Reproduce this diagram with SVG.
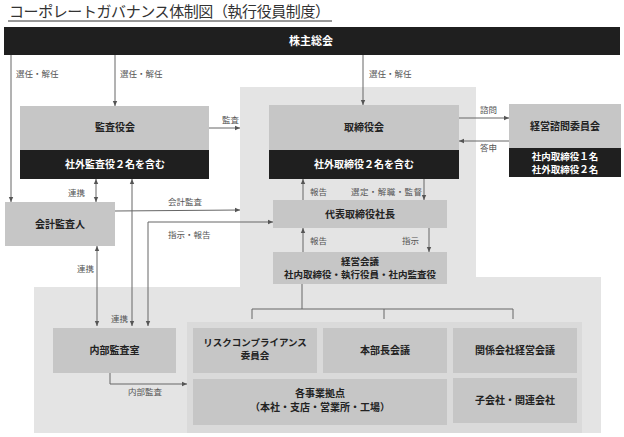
<svg xmlns="http://www.w3.org/2000/svg" width="624" height="437" viewBox="0 0 624 437">
<defs>
<marker id="ah" markerWidth="6" markerHeight="6" refX="5" refY="3" orient="auto" markerUnits="userSpaceOnUse">
<path d="M0,0.8 L5,3 L0,5.2 Z" fill="#555"/>
</marker>
<marker id="ahs" markerWidth="6" markerHeight="6" refX="0" refY="3" orient="auto" markerUnits="userSpaceOnUse">
<path d="M5,0.8 L0,3 L5,5.2 Z" fill="#555"/>
</marker>
<style>
text{font-family:"Noto Sans CJK JP","Noto Sans",sans-serif}
.title{font-size:15px;fill:#333}
.nt{font-size:10px;font-weight:700;fill:#222;text-anchor:middle}
.wt{font-size:10px;font-weight:700;fill:#fff;text-anchor:middle}
.sm{font-size:9.5px}
.lb{font-size:8.5px;fill:#555}
.light{fill:#c6c6c6}
.dark{fill:#1f1f1f}
.ln{stroke:#666;stroke-width:1;fill:none}
.ar{stroke:#666;stroke-width:1;fill:none;marker-end:url(#ah)}
.da{stroke:#666;stroke-width:1;fill:none;marker-end:url(#ah);marker-start:url(#ahs)}
</style>
</defs>
<rect width="624" height="437" fill="#fff"/>
<text class="title" x="9" y="17" textLength="321" lengthAdjust="spacing">コーポレートガバナンス体制図（執行役員制度）</text>
<line x1="8" y1="21" x2="332" y2="21" stroke="#333" stroke-width="1"/>

<g id="regions">
<polygon points="240,87 476,87 476,277 601,277 601,433 34,433 34,287 240,287" fill="#e4e4e4"/>
<rect x="187" y="322" width="395" height="111" fill="#dadada"/>
</g>

<g id="kabunushi">
<rect class="dark" x="4" y="27" width="616" height="28"/>
<text class="wt" x="311" y="45" style="font-size:11px">株主総会</text>
</g>

<g id="kansayakukai">
<rect class="light" x="20" y="106" width="189" height="44"/>
<rect class="dark" x="20" y="150" width="189" height="29"/>
<text class="nt" x="115" y="131">監査役会</text>
<text class="wt" x="115" y="168">社外監査役２名を含む</text>
</g>

<g id="kaikei">
<rect class="light" x="5" y="202" width="110" height="44"/>
<text class="nt" x="60" y="228">会計監査人</text>
</g>

<g id="torishimariyakukai">
<rect class="light" x="269" y="105" width="190" height="45"/>
<rect class="dark" x="269" y="150" width="190" height="29"/>
<text class="nt" x="364" y="131">取締役会</text>
<text class="wt" x="364" y="168">社外取締役２名を含む</text>
</g>

<g id="shimon">
<rect class="light" x="509" y="104" width="112" height="44"/>
<rect class="dark" x="509" y="148" width="112" height="29"/>
<text class="nt" x="565" y="130">経営諮問委員会</text>
<text class="wt sm" x="565" y="160">社内取締役１名</text>
<text class="wt sm" x="565" y="173">社外取締役２名</text>
</g>

<g id="shacho">
<rect class="light" x="273" y="200" width="174" height="28"/>
<text class="nt" x="360" y="218">代表取締役社長</text>
</g>

<g id="keieikaigi">
<rect class="light" x="273" y="252" width="174" height="32"/>
<text class="nt sm" x="360" y="264.5">経営会議</text>
<text class="nt sm" x="360" y="277.5">社内取締役・執行役員・社内監査役</text>
</g>

<g id="naibu">
<rect class="light" x="53" y="328" width="123" height="45"/>
<text class="nt" x="114.5" y="354">内部監査室</text>
</g>

<g id="risk">
<rect class="light" x="193" y="328" width="124" height="45"/>
<text class="nt sm" x="255" y="346">リスクコンプライアンス</text>
<text class="nt sm" x="255" y="359">委員会</text>
</g>

<g id="honbucho">
<rect class="light" x="323" y="328" width="124" height="45"/>
<text class="nt" x="385" y="354">本部長会議</text>
</g>

<g id="kankei">
<rect class="light" x="453" y="328" width="124" height="45"/>
<text class="nt" x="515" y="354">関係会社経営会議</text>
</g>

<g id="jigyo">
<rect class="light" x="193" y="379" width="254" height="46"/>
<text class="nt" x="320" y="397">各事業拠点</text>
<text class="nt" x="320" y="411">（本社・支店・営業所・工場）</text>
</g>

<g id="kogaisha">
<rect class="light" x="453" y="378" width="124" height="45"/>
<text class="nt" x="515" y="404">子会社・関連会社</text>
</g>

<g id="connectors">
<line class="ar" x1="11" y1="55" x2="11" y2="202"/>
<line class="ar" x1="115" y1="55" x2="115" y2="106"/>
<line class="ar" x1="363" y1="55" x2="363" y2="105"/>
<line class="ar" x1="209" y1="128" x2="240" y2="128"/>
<line class="ar" x1="459" y1="118" x2="509" y2="118"/>
<line class="ar" x1="509" y1="141" x2="459" y2="141"/>
<line class="da" x1="96" y1="179" x2="96" y2="202"/>
<line class="ar" x1="115" y1="211" x2="240" y2="210"/>
<polyline class="da" points="148,326 148,222 273,222"/>
<line class="da" x1="132" y1="179" x2="132" y2="326"/>
<line class="da" x1="97" y1="246" x2="97" y2="326"/>
<polyline class="ar" points="110,373 110,384 187,384"/>
<line class="ar" x1="303" y1="200" x2="303" y2="179"/>
<line class="ar" x1="424" y1="179" x2="424" y2="200"/>
<line class="ar" x1="303" y1="252" x2="303" y2="228"/>
<line class="ar" x1="429" y1="228" x2="429" y2="252"/>
<polyline class="ln" points="302,284 302,309"/>
<polyline class="ln" points="252,319 252,309 513,309 513,319"/>
<line class="ln" x1="384" y1="309" x2="384" y2="319"/>
</g>

<g id="labels">
<text class="lb" x="16" y="77">選任・解任</text>
<text class="lb" x="120" y="77">選任・解任</text>
<text class="lb" x="369" y="77">選任・解任</text>
<text class="lb" x="222" y="123">監査</text>
<text class="lb" x="480" y="113">諮問</text>
<text class="lb" x="480" y="151">答申</text>
<text class="lb" x="68" y="196">連携</text>
<text class="lb" x="168" y="205">会計監査</text>
<text class="lb" x="168" y="238">指示・報告</text>
<text class="lb" x="77" y="272">連携</text>
<text class="lb" x="111" y="322">連携</text>
<text class="lb" x="128" y="395">内部監査</text>
<text class="lb" x="310" y="195">報告</text>
<text class="lb" x="351" y="195" textLength="71" lengthAdjust="spacing">選定・解職・監督</text>
<text class="lb" x="310" y="244">報告</text>
<text class="lb" x="402" y="244">指示</text>
</g>
</svg>
